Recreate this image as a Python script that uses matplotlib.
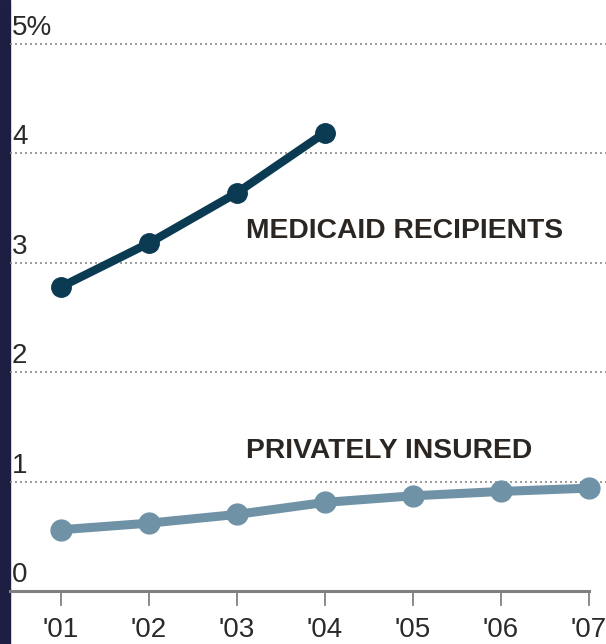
import matplotlib
matplotlib.use("Agg")
import matplotlib.pyplot as plt
import matplotlib.patches as patches
import matplotlib.transforms as mtransforms

years = ["'01", "'02", "'03", "'04", "'05", "'06", "'07"]
medicaid = [2.78, 3.18, 3.64, 4.19]
private = [0.56, 0.62, 0.70, 0.81, 0.87, 0.91, 0.94]
y_ticks = [0, 1, 2, 3, 4, 5]
y_labels = ["0", "1", "2", "3", "4", "5%"]

plt.rcParams['font.family'] = ['Liberation Sans', 'DejaVu Sans']

W, H = 606, 644
fig = plt.figure(figsize=(W / 100, H / 100), dpi=100)
fig.patch.set_facecolor('white')

# dark strip on the left
fig.add_artist(patches.Rectangle((0, 0), 10 / W, 1, transform=fig.transFigure,
                                 color='#1d1f42', zorder=0))

# axes: baseline at y=591px, x from 10px to 606px
ax = fig.add_axes([10 / W, (H - 591) / H, (W - 10) / W, (591 - 25) / H])
ax.set_facecolor('none')
px_x = 88.0
px_y = 109.4
x0 = (10 - 61) / px_x
ax.set_xlim(x0, x0 + (W - 10) / px_x)
ax.set_ylim(0, (591 - 25) / px_y)
for s in ax.spines.values():
    s.set_visible(False)
ax.set_xticks([])
ax.set_yticks([])

# dotted gridlines
for v in y_ticks[1:]:
    ax.axhline(v, color='#8a8a8a', lw=1.2, ls=(0, (1.2, 1.8)), zorder=1)

# baseline and ticks
xs = list(range(len(years)))
ax.plot([x0, xs[-1]], [0, 0], color='#808080', lw=2.2, zorder=2, clip_on=False)
for i, lab in enumerate(years):
    ax.plot([i, i], [0, -14 / px_y], color='#808080', lw=1.3, clip_on=False)
    ax.text(i, -46 / px_y, lab, ha='center', va='baseline', fontsize=20,
            color='#2a2a2a')

# y labels above gridlines
ytrans = mtransforms.blended_transform_factory(ax.transAxes, ax.transData)
for v, lab in zip(y_ticks, y_labels):
    ax.text(2 / (W - 10), v + 9 / px_y, lab, transform=ytrans, ha='left',
            va='baseline', fontsize=20, color='#2a2a2a')

# series
ax.plot(xs[:len(medicaid)], medicaid, color='#0b3a53', lw=6, marker='o', ms=14,
        zorder=4, solid_capstyle='round')
ax.plot(xs, private, color='#6f92a6', lw=6.5, marker='o', ms=15, zorder=4,
        clip_on=False)

ax.text(2.1, 3.29, "MEDICAID RECIPIENTS", fontsize=20.3, fontweight='bold',
        color='#2b2622', va='center', ha='left')
ax.text(2.1, 1.28, "PRIVATELY INSURED", fontsize=20.3, fontweight='bold',
        color='#2b2622', va='center', ha='left')

fig.savefig("out.png", dpi=100)
